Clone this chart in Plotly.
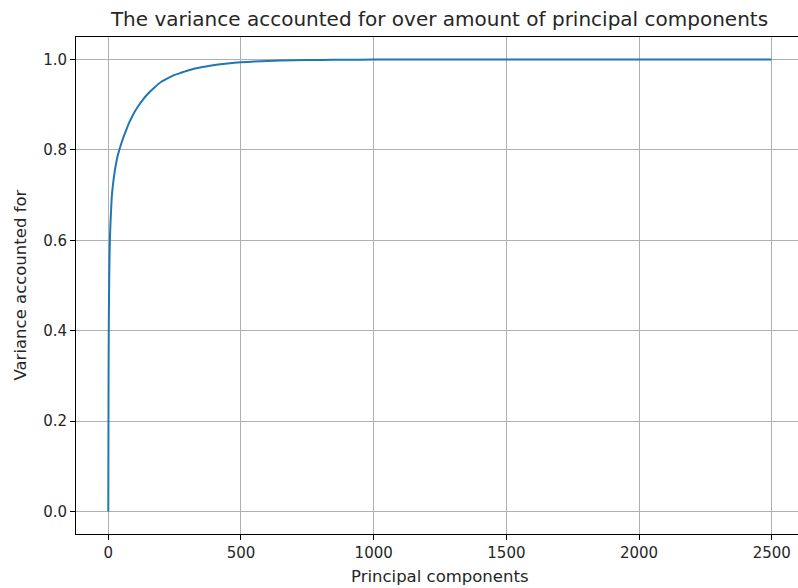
import plotly.graph_objects as go

# Cumulative explained variance
components = [0, 1, 2, 3, 4, 5, 6, 8, 10, 13, 16, 20, 25, 30, 35, 40, 45, 50, 60,
              70, 80, 90, 100, 115, 130, 150, 175, 200, 225, 250, 275, 300, 350,
              400, 450, 500, 550, 600, 700, 800, 900, 1000, 1500, 2000, 2499]
variance = [0.0, 0.30, 0.42, 0.49, 0.54, 0.575, 0.60, 0.635, 0.66, 0.695, 0.715,
            0.735, 0.756, 0.772, 0.786, 0.797, 0.807, 0.816, 0.833,
            0.848, 0.862, 0.874, 0.885, 0.899, 0.911, 0.925, 0.939, 0.951, 0.959,
            0.966, 0.971, 0.976, 0.983, 0.988, 0.9915, 0.994, 0.9958, 0.997,
            0.9985, 0.9993, 0.9997, 1.0, 1.0, 1.0, 1.0]

x_ticks = [0, 500, 1000, 1500, 2000, 2500]
y_ticks = [0.0, 0.2, 0.4, 0.6, 0.8, 1.0]
y_tick_text = ["0.0", "0.2", "0.4", "0.6", "0.8", "1.0"]

FONT = "DejaVu Sans"
TXT = "#262626"

fig = go.Figure()
fig.add_trace(go.Scatter(x=components, y=variance, mode="lines",
                         line=dict(color="#1f77b4", width=2, shape="spline", smoothing=0.4),
                         showlegend=False))

W, H = 798, 588
L, T, B = 76, 37, 54
fig.update_layout(
    width=W, height=H,
    margin=dict(l=L, r=0, t=T, b=B),
    paper_bgcolor="white", plot_bgcolor="white",
    font=dict(family=FONT, size=14, color=TXT),
    title=dict(text="The variance accounted for over amount of principal components",
               x=(439.5 - L) / (W - L), xref="paper", xanchor="center",
               y=1 - 19 / H, yref="container", yanchor="middle",
               font=dict(family=FONT, size=20, color=TXT)),
    xaxis=dict(range=[-121.7, 2598.8], tickvals=x_ticks, ticktext=[str(v) for v in x_ticks],
               showgrid=True, gridcolor="#b0b0b0", gridwidth=1,
               showline=True, linecolor="black", linewidth=1, mirror=True,
               ticks="outside", ticklen=5, tickcolor="black", tickwidth=1,
               zeroline=False, tickfont=dict(size=15, color=TXT)),
    yaxis=dict(range=[-0.05, 1.05], tickvals=y_ticks, ticktext=y_tick_text,
               showgrid=True, gridcolor="#b0b0b0", gridwidth=1,
               showline=True, linecolor="black", linewidth=1, mirror=False,
               ticks="outside", ticklen=5, tickcolor="black", tickwidth=1,
               zeroline=False, tickfont=dict(size=15, color=TXT)),
    annotations=[
        dict(text="Principal components", x=(440 - L) / (W - L), y=-(576 - 534) / (H - T - B),
             xref="paper", yref="paper", xanchor="center", yanchor="middle",
             showarrow=False, font=dict(family=FONT, size=16.5, color=TXT)),
        dict(text="Variance accounted for", x=-(L - 20) / (W - L), y=0.5,
             xref="paper", yref="paper", xanchor="center", yanchor="middle",
             textangle=-90, showarrow=False, font=dict(family=FONT, size=16.5, color=TXT)),
    ],
)

fig.write_html("out.html")
